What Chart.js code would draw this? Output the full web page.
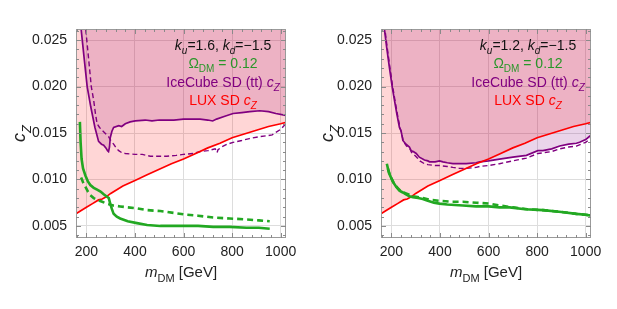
<!DOCTYPE html>
<html lang="en">
<head>
    <meta charset="UTF-8">
    <title>cZ limits</title>
    <script src="https://cdn.jsdelivr.net/npm/chart.js"></script>
    <style>
        body { margin: 0; background: #fff; }
        #wrap { position: relative; width: 617px; height: 309px; }
        canvas { position: absolute; top: 0; }
        #left { left: 0; }
        #right { left: 308px; }
    </style>
</head>
<body>
<div id="wrap">
    <canvas id="left" width="308" height="309"></canvas>
    <canvas id="right" width="309" height="309"></canvas>
</div>
<script>
    // axes (shared by both panels)
    const xMin = 157, xMax = 1022;
    const yMin = 0.0037, yMax = 0.0262;
    const xTicks = [200, 400, 600, 800, 1000];
    const yTicks = [0.005, 0.010, 0.015, 0.020, 0.025];
    const xMinorStep = 40, yMinorStep = 0.001;

    // LUX SD c_Z bound (same in both panels)
    const luxMass = [150, 175, 200, 225, 250, 265, 280, 300, 350, 400, 450, 500, 550, 600, 650, 700, 750, 800, 850, 900, 950, 1000, 1030];
    const luxCz = [0.0062, 0.0066, 0.0070, 0.0074, 0.0078, 0.0079, 0.0081, 0.0085, 0.0093, 0.0099, 0.0105, 0.0111, 0.0117, 0.0122, 0.0128, 0.0134, 0.0139, 0.0145, 0.0149, 0.0153, 0.0157, 0.0160, 0.0162];

    // left panel: k_u = 1.6, k_d = -1.5
    const iceMassL = [175, 178, 190, 203, 218, 235, 250, 262, 271, 280, 287, 291, 295, 298, 305, 312, 333, 345, 360, 380, 401, 442, 470, 500, 531, 560, 600, 640, 668, 700, 720, 736, 770, 804, 840, 873, 914, 950, 980, 1021, 1030];
    const iceCzL = [0.0270, 0.0262, 0.0232, 0.0200, 0.0178, 0.0156, 0.0141, 0.0138, 0.0137, 0.0134, 0.0131, 0.0130, 0.0135, 0.0145, 0.0152, 0.0156, 0.0158, 0.0157, 0.0160, 0.0162, 0.0163, 0.0164, 0.0163, 0.0164, 0.0164, 0.0164, 0.0165, 0.0165, 0.0165, 0.0164, 0.0163, 0.0165, 0.0168, 0.0171, 0.0172, 0.0173, 0.0174, 0.0173, 0.0171, 0.0169, 0.0168];
    const iceDashMassL = [193, 197, 210, 220, 230, 237, 244, 254, 264, 280, 291, 300, 312, 322, 333, 345, 360, 400, 430, 463, 500, 531, 570, 599, 640, 668, 700, 730, 735, 738, 742, 757, 780, 804, 840, 871, 910, 941, 965, 982, 1000, 1021, 1030];
    const iceDashCzL = [0.0270, 0.0262, 0.0227, 0.0200, 0.0185, 0.0171, 0.0160, 0.0156, 0.0153, 0.0149, 0.0146, 0.0142, 0.0138, 0.0134, 0.0131, 0.0129, 0.0128, 0.0127, 0.0127, 0.0125, 0.0125, 0.0125, 0.0126, 0.0127, 0.0128, 0.0130, 0.0131, 0.0133, 0.0131, 0.0129, 0.0132, 0.0135, 0.0138, 0.0140, 0.0142, 0.0144, 0.0146, 0.0147, 0.0148, 0.0151, 0.0154, 0.0160, 0.0162];
    const relicMassL = [173, 176, 180, 186, 196, 206, 216, 230, 244, 258, 271, 282, 292, 298, 305, 312, 325, 339, 370, 408, 450, 504, 560, 613, 660, 722, 790, 859, 910, 955];
    const relicCzL = [0.0162, 0.0140, 0.0122, 0.0112, 0.0104, 0.0098, 0.0094, 0.0091, 0.0089, 0.0087, 0.0084, 0.0082, 0.0080, 0.0074, 0.0068, 0.0063, 0.0060, 0.0058, 0.0055, 0.0053, 0.0051, 0.0050, 0.0050, 0.0050, 0.0050, 0.0049, 0.0049, 0.0048, 0.0048, 0.0047];
    const relicDashMassL = [178, 186, 196, 206, 216, 230, 244, 265, 285, 310, 339, 370, 408, 450, 504, 560, 613, 660, 722, 790, 859, 910, 955];
    const relicDashCzL = [0.0102, 0.0097, 0.0092, 0.0087, 0.0083, 0.0080, 0.0078, 0.0076, 0.0074, 0.0072, 0.0071, 0.0070, 0.0069, 0.0067, 0.0066, 0.0064, 0.0062, 0.0061, 0.0059, 0.0058, 0.0057, 0.0056, 0.0055];

    // right panel: k_u = 1.2, k_d = -1.5
    const iceMassR = [165, 171, 180, 192, 203, 212, 222, 233, 240, 247, 260, 274, 281, 290, 302, 315, 336, 350, 357, 380, 398, 412, 430, 453, 480, 508, 549, 563, 600, 645, 700, 756, 803, 824, 860, 893, 930, 962, 975, 1000, 1014, 1030];
    const iceCzR = [0.0275, 0.0262, 0.0243, 0.0220, 0.0200, 0.0186, 0.0171, 0.0156, 0.0152, 0.0142, 0.0138, 0.0135, 0.0131, 0.0130, 0.0128, 0.0124, 0.0121, 0.0120, 0.0119, 0.0119, 0.0120, 0.0119, 0.0118, 0.0117, 0.0117, 0.0117, 0.0118, 0.0119, 0.0120, 0.0122, 0.0124, 0.0126, 0.0131, 0.0131, 0.0133, 0.0136, 0.0138, 0.0139, 0.0140, 0.0143, 0.0146, 0.0149];
    const iceDashMassR = [167, 173, 182, 194, 205, 214, 224, 235, 242, 249, 262, 276, 283, 292, 304, 317, 336, 350, 380, 398, 430, 453, 480, 508, 549, 563, 600, 645, 700, 756, 803, 860, 893, 930, 962, 1000, 1030];
    const iceDashCzR = [0.0275, 0.0262, 0.0243, 0.0220, 0.0200, 0.0186, 0.0171, 0.0156, 0.0150, 0.0141, 0.0136, 0.0133, 0.0129, 0.0127, 0.0124, 0.0120, 0.0117, 0.0116, 0.0115, 0.0115, 0.0114, 0.0113, 0.0112, 0.0112, 0.0113, 0.0114, 0.0115, 0.0117, 0.0120, 0.0123, 0.0128, 0.0130, 0.0133, 0.0135, 0.0136, 0.0140, 0.0146];
    const relicMassR = [181, 190, 205, 220, 233, 247, 260, 274, 288, 310, 329, 350, 375, 398, 430, 494, 549, 600, 645, 687, 750, 824, 900, 962, 1000, 1024];
    const relicCzR = [0.0117, 0.0107, 0.0098, 0.0092, 0.0088, 0.0086, 0.0084, 0.0082, 0.0081, 0.0080, 0.0079, 0.0077, 0.0075, 0.0074, 0.0073, 0.0072, 0.0071, 0.0071, 0.0070, 0.0070, 0.0068, 0.0067, 0.0065, 0.0063, 0.0062, 0.0061];
    const relicDashMassR = [185, 195, 210, 225, 240, 260, 288, 329, 360, 398, 450, 494, 549, 604, 645, 700, 760, 824, 900, 962, 1000, 1024];
    const relicDashCzR = [0.0112, 0.0104, 0.0096, 0.0091, 0.0087, 0.0085, 0.0082, 0.0080, 0.0078, 0.0077, 0.0076, 0.0076, 0.0075, 0.0074, 0.0072, 0.0070, 0.0068, 0.0067, 0.0065, 0.0063, 0.0062, 0.0061];

    const FONT = '"Liberation Sans", Arial, sans-serif';
    const GREEN = '#22a822', PURPLE = '#800080', RED = '#ff0000';

    function pts(ms, cs) {
        return ms.map((m, i) => ({ x: m, y: cs[i] }));
    }

    // draws a line made of pieces: [text, style] with style '', 'i', 's' (sub), 'si' (italic sub)
    function drawRich(ctx, parts, cx, cy, size) {
        const subSize = Math.round(size * 0.72);
        const fontOf = st => (st.includes('i') ? 'italic ' : '') + (st.includes('s') ? subSize : size) + 'px ' + FONT;
        let total = 0;
        parts.forEach(([t, st]) => { ctx.font = fontOf(st); total += ctx.measureText(t).width; });
        let x = cx - total / 2;
        const base = cy + size * 0.36;
        ctx.textAlign = 'left';
        ctx.textBaseline = 'alphabetic';
        parts.forEach(([t, st]) => {
            ctx.font = fontOf(st);
            ctx.fillText(t, x, base + (st.includes('s') ? size * 0.28 : 0));
            x += ctx.measureText(t).width;
        });
    }

    const panelPlugin = {
        id: 'panel',
        afterDraw(chart, args, opts) {
            const { ctx, chartArea: a } = chart;
            const xs = chart.scales.x, ys = chart.scales.y;
            ctx.save();
            // frame
            ctx.strokeStyle = '#9a9a9a';
            ctx.lineWidth = 1;
            ctx.strokeRect(a.left + 0.5, a.top + 0.5, a.right - a.left - 1, a.bottom - a.top - 1);
            // inward ticks, all four sides
            ctx.strokeStyle = '#8a8a8a';
            ctx.beginPath();
            for (let k = Math.ceil(xMin / xMinorStep); k * xMinorStep <= xMax; k++) {
                const v = k * xMinorStep;
                const major = xTicks.some(t => Math.abs(t - v) < 1e-6);
                const len = major ? 5 : 3;
                const px = Math.round(xs.getPixelForValue(v)) + 0.5;
                ctx.moveTo(px, a.bottom); ctx.lineTo(px, a.bottom - len);
                ctx.moveTo(px, a.top); ctx.lineTo(px, a.top + len);
            }
            for (let k = Math.ceil(yMin / yMinorStep - 1e-9); k * yMinorStep <= yMax + 1e-12; k++) {
                const v = k * yMinorStep;
                const major = yTicks.some(t => Math.abs(t - v) < 1e-9);
                const len = major ? 5 : 3;
                const py = Math.round(ys.getPixelForValue(v)) + 0.5;
                ctx.moveTo(a.left, py); ctx.lineTo(a.left + len, py);
                ctx.moveTo(a.right, py); ctx.lineTo(a.right - len, py);
            }
            ctx.stroke();

            // axis titles
            ctx.fillStyle = '#222';
            drawRich(ctx, [['m', 'i'], ['DM', 's'], [' [GeV]', '']], (a.left + a.right) / 2, 272, 15);
            ctx.save();
            ctx.translate(19, (a.top + a.bottom) / 2);
            ctx.rotate(-Math.PI / 2);
            drawRich(ctx, [['c', 'i'], ['Z', 'si']], 0, 0, 18);
            ctx.restore();

            // legend text
            opts.lines.forEach(l => {
                ctx.fillStyle = l.color;
                drawRich(ctx, l.parts, a.left + 147, a.top + l.dy, 14);
            });
            ctx.restore();
        }
    };

    function makePanel(id, ku, d, axisWidth, padRight) {
        const ctx = document.getElementById(id).getContext('2d');
        return new Chart(ctx, {
            type: 'line',
            data: {
                datasets: [
                    { data: pts(d.relicM, d.relicC), borderColor: GREEN, borderWidth: 2.6, fill: false },
                    { data: pts(d.relicDM, d.relicDC), borderColor: GREEN, borderWidth: 2.6, borderDash: [6, 4], fill: false },
                    { data: pts(luxMass, luxCz), borderColor: RED, borderWidth: 1.7, fill: 'end', backgroundColor: 'rgba(255, 0, 0, 0.16)' },
                    { data: pts(d.iceM, d.iceC), borderColor: PURPLE, borderWidth: 1.7, fill: 'end', backgroundColor: 'rgba(128, 0, 128, 0.17)' },
                    { data: pts(d.iceDM, d.iceDC), borderColor: PURPLE, borderWidth: 1.4, borderDash: [5, 3], fill: false }
                ]
            },
            options: {
                responsive: false,
                animation: false,
                parsing: false,
                layout: { padding: { left: 0, top: 29, right: padRight, bottom: 0 } },
                elements: { point: { radius: 0 }, line: { tension: 0 } },
                datasets: { line: { clip: 0 } },
                scales: {
                    x: {
                        type: 'linear', min: xMin, max: xMax,
                        afterBuildTicks: s => { s.ticks = xTicks.map(v => ({ value: v })); },
                        afterFit: s => { s.height = 71; },
                        ticks: { callback: v => String(v), font: { family: FONT, size: 14 }, color: '#222', padding: 6, maxRotation: 0 },
                        grid: { color: '#dddddd', lineWidth: 1, drawTicks: false },
                        border: { display: false }
                    },
                    y: {
                        type: 'linear', min: yMin, max: yMax,
                        afterBuildTicks: s => { s.ticks = yTicks.map(v => ({ value: v })); },
                        afterFit: s => { s.width = axisWidth; },
                        ticks: { callback: v => v.toFixed(3), font: { family: FONT, size: 14 }, color: '#222', padding: 9 },
                        grid: { color: '#dddddd', lineWidth: 1, drawTicks: false },
                        border: { display: false }
                    }
                },
                plugins: {
                    legend: { display: false },
                    tooltip: { enabled: false },
                    filler: { drawTime: 'beforeDatasetsDraw' },
                    panel: {
                        lines: [
                            { color: '#111', dy: 16, parts: [['k', 'i'], ['u', 'si'], ['=' + ku + ', ', ''], ['k', 'i'], ['d', 'si'], ['=\u22121.5', '']] },
                            { color: '#2a962a', dy: 34, parts: [['\u03A9', ''], ['DM', 's'], [' = 0.12', '']] },
                            { color: PURPLE, dy: 53, parts: [['IceCube SD (tt) ', ''], ['c', 'i'], ['Z', 'si']] },
                            { color: RED, dy: 71, parts: [['LUX SD ', ''], ['c', 'i'], ['Z', 'si']] }
                        ]
                    }
                }
            },
            plugins: [panelPlugin]
        });
    }

    makePanel('left', '1.6', {
        iceM: iceMassL, iceC: iceCzL, iceDM: iceDashMassL, iceDC: iceDashCzL,
        relicM: relicMassL, relicC: relicCzL, relicDM: relicDashMassL, relicDC: relicDashCzL
    }, 76, 22);

    makePanel('right', '1.2', {
        iceM: iceMassR, iceC: iceCzR, iceDM: iceDashMassR, iceDC: iceDashCzR,
        relicM: relicMassR, relicC: relicCzR, relicDM: relicDashMassR, relicDC: relicDashCzR
    }, 73, 26);
</script>
</body>
</html>
